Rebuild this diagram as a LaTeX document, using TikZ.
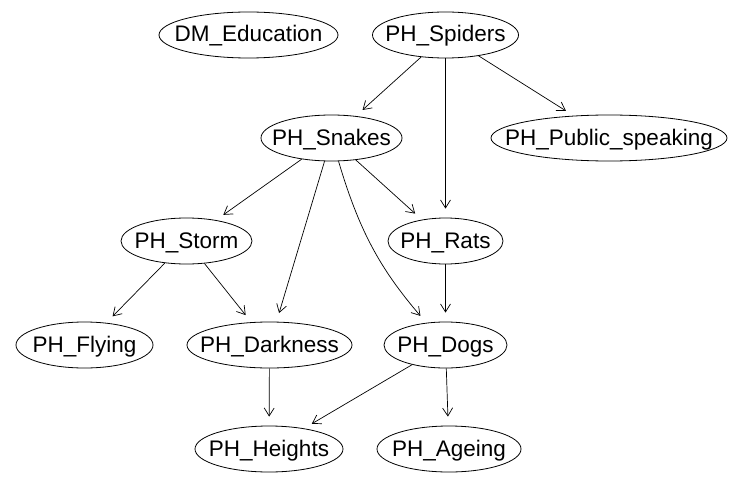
\documentclass[tikz,border=0pt]{standalone}
\usepackage{fontspec}
\setmainfont{Liberation Sans}
\usetikzlibrary{shapes.geometric,arrows.meta}
\newcommand{\nm}[1]{\makebox[0pt]{#1}}
\begin{document}
\begin{tikzpicture}[x=1pt,y=1pt]
\tikzstyle{every node}+=[inner sep=0pt]
\tikzstyle{var}=[draw, ellipse, minimum height=46pt, line width=0.8pt, text height=18pt, text depth=4pt, font=\fontsize{22.5}{27}\selectfont]
\tikzstyle{link}=[-{Straight Barb[length=8pt,width=10pt]}, line width=0.7pt, shorten >=9pt]
\useasboundingbox (0,0) rectangle (749,-484);
\node[var, minimum width=179pt] (edu) at (248.5,-35) {\nm{DM\_Education}};
\node[var, minimum width=146pt] (spid) at (445.5,-35) {\nm{PH\_Spiders}};
\node[var, minimum width=141pt] (snak) at (331.5,-138) {\nm{PH\_Snakes}};
\node[var, minimum width=236pt] (pub) at (609,-138) {\nm{PH\_Public\_speaking}};
\node[var, minimum width=131pt] (storm) at (186.5,-241) {\nm{PH\_Storm}};
\node[var, minimum width=115pt] (rats) at (445.5,-241) {\nm{PH\_Rats}};
\node[var, minimum width=137pt] (fly) at (84.5,-345) {\nm{PH\_Flying}};
\node[var, minimum width=165pt] (dark) at (269.5,-345) {\nm{PH\_Darkness}};
\node[var, minimum width=123pt] (dogs) at (445.5,-345) {\nm{PH\_Dogs}};
\node[var, minimum width=148pt] (heig) at (269,-449) {\nm{PH\_Heights}};
\node[var, minimum width=144pt] (age) at (449,-449) {\nm{PH\_Ageing}};
\draw[link] (spid) -- (snak);
\draw[link] (spid) -- (rats);
\draw[link] (spid) -- (pub);
\draw[link] (snak) -- (storm);
\draw[link] (snak) -- (dark);
\draw[link] (snak) to[bend right=12] (dogs);
\draw[link] (snak) -- (rats);
\draw[link] (storm) -- (fly);
\draw[link] (storm) -- (dark);
\draw[link] (rats) -- (dogs);
\draw[link] (dark) -- (heig);
\draw[link] (dogs) -- (heig);
\draw[link] (dogs) -- (age);
\end{tikzpicture}
\end{document}
